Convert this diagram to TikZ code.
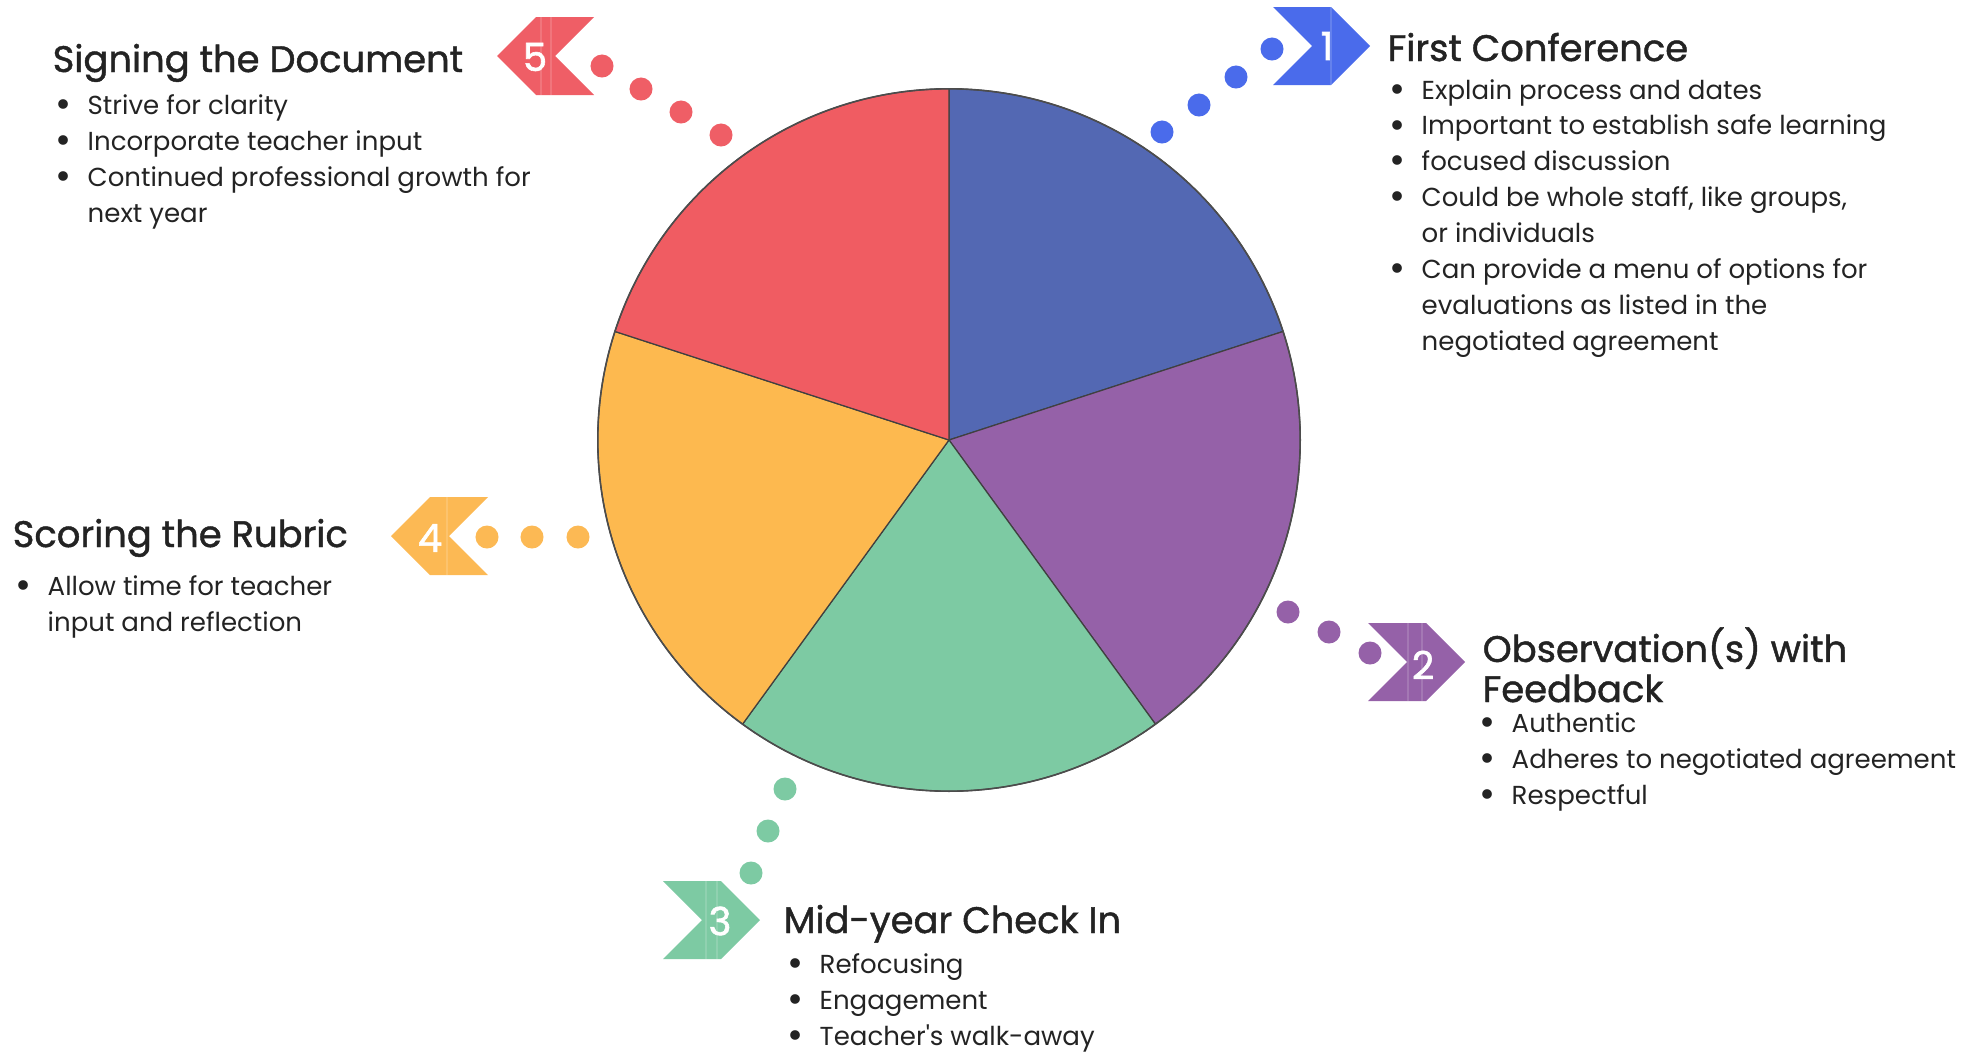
\documentclass[tikz,border=0pt]{standalone}
\usepackage{fontspec}
\setmainfont{Poppins}
\usepackage{graphicx}
\usepackage{xcolor}
\definecolor{InkDark}{HTML}{232323}
\definecolor{SliceBlue}{HTML}{5368B3}
\definecolor{SlicePurple}{HTML}{9561A8}
\definecolor{SliceGreen}{HTML}{7DCAA3}
\definecolor{SliceOrange}{HTML}{FDB94F}
\definecolor{SliceRed}{HTML}{F05C62}
\definecolor{StepBlue}{HTML}{4A6BEB}
\definecolor{StepPurple}{HTML}{9561A8}
\definecolor{StepGreen}{HTML}{7DCAA3}
\definecolor{StepOrange}{HTML}{FCB954}
\definecolor{StepRed}{HTML}{EF5E66}
\usepackage{tikz}
\usetikzlibrary{positioning,calc}

% bullet lines with a hanging indent
\newlength\bulw
\setlength\bulw{0.32cm}
\newcommand\itm{\makebox[\bulw][l]{\raisebox{-0.12em}{\scalebox{1.5}{\textbullet}}}}
\newcommand\hang{\hspace*{\bulw}}

\begin{document}
\begin{tikzpicture}[x=0.01cm,y=-0.01cm,
  % multi-line nodes sit on the baseline of their last line
  title/.style={anchor=base west,inner sep=0,align=left,text=InkDark,
    font=\fontsize{10.5}{11.4}\selectfont\addfontfeature{FakeBold=1.2}},
  list/.style={anchor=base west,inner sep=0,align=left,text=InkDark,
    font=\fontsize{7.4}{10.19}\selectfont},
  num/.style={inner sep=0,text=white,
    font=\fontsize{11}{11}\selectfont\addfontfeature{FakeBold=1.6}},
  slice/.style={draw=black!75,line width=0.35pt},
  seam/.style={draw=white,opacity=0.15,line width=0.3pt}
]
  \useasboundingbox (0,0) rectangle (1972,1051);

  % pie
  \coordinate (c) at (949,440);
  \foreach \a/\col in {90/SliceBlue,18/SlicePurple,-54/SliceGreen,-126/SliceOrange,162/SliceRed}
    \filldraw[slice,fill=\col] (c) -- ++(\a:3.51cm) arc[start angle=\a,end angle=\a-72,radius=3.51cm] -- cycle;
  \draw[draw=black!70,line width=0.45pt] (c) circle[radius=3.51cm];

  % step 1
  \fill[StepBlue] (1273,7) -- ++(58,0) -- ++(39,39) -- ++(-39,39) -- ++(-58,0) -- ++(39,-39) -- cycle;
  \draw[seam] (1331,7) -- ++(0,78);
  \node[num] (n1) at (1327,46) {1};
  \foreach \x/\y in {1162/132,1199/105,1236/77,1272/49}
    \fill[StepBlue] (\x,\y) circle[radius=0.115cm];
  \node[title] (t1) at (1387,61) {First Conference};
  \node[list] (l1) at (1389,350) {\itm Explain process and dates\\
    \itm Important to establish safe learning\\
    \itm focused discussion\\
    \itm Could be whole staff, like groups,\\
    \hang or individuals\\
    \itm Can provide a menu of options for\\
    \hang evaluations as listed in the\\
    \hang negotiated agreement};

  % step 2
  \fill[StepPurple] (1368,623) -- ++(58,0) -- ++(39,39) -- ++(-39,39) -- ++(-58,0) -- ++(39,-39) -- cycle;
  \draw[seam] (1408,623) -- ++(0,78);
  \draw[seam] (1422,623) -- ++(0,78);
  \foreach \x/\y in {1288/612,1329/632,1370/653}
    \fill[StepPurple] (\x,\y) circle[radius=0.115cm];
  \node[num] (n2) at (1423,665) {2};
  \node[title] (t2) at (1482,702) {Observation(s) with\\Feedback};
  \node[list] (l2) at (1479,804) {\itm Authentic\\
    \itm Adheres to negotiated agreement\\
    \itm Respectful};

  % step 3
  \fill[StepGreen] (663,881) -- ++(58,0) -- ++(39,39) -- ++(-39,39) -- ++(-58,0) -- ++(39,-39) -- cycle;
  \draw[seam] (706,881) -- ++(0,78);
  \draw[seam] (717,881) -- ++(0,78);
  \node[num] (n3) at (720,921) {3};
  \foreach \x/\y in {785/789,768/831,751/873}
    \fill[StepGreen] (\x,\y) circle[radius=0.115cm];
  \node[title] (t3) at (783,933) {Mid-year Check In};
  \node[list] (l3) at (787,1045) {\itm Refocusing\\
    \itm Engagement\\
    \itm Teacher\textquotesingle s walk-away};

  % step 4
  \fill[StepOrange] (488,497) -- ++(-58,0) -- ++(-39,39) -- ++(39,39) -- ++(58,0) -- ++(-39,-39) -- cycle;
  \draw[seam] (447,497) -- ++(0,78);
  \node[num] (n4) at (430,538) {4};
  \foreach \x/\y in {487/537,532/537,578/537}
    \fill[StepOrange] (\x,\y) circle[radius=0.115cm];
  \node[title] (t4) at (12,547) {Scoring the Rubric};
  \node[list] (l4) at (15,631) {\itm Allow time for teacher\\
    \hang input and reflection};

  % step 5
  \fill[StepRed] (594,17) -- ++(-58,0) -- ++(-39,39) -- ++(39,39) -- ++(58,0) -- ++(-39,-39) -- cycle;
  \draw[seam] (541,17) -- ++(0,78);
  \draw[seam] (551,17) -- ++(0,78);
  \node[num] (n5) at (535,57) {5};
  \foreach \x/\y in {602/66,641/89,681/112,721/135}
    \fill[StepRed] (\x,\y) circle[radius=0.115cm];
  \node[title] (t5) at (52,72) {Signing the Document};
  \node[list] (l5) at (55,222) {\itm Strive for clarity\\
    \itm Incorporate teacher input\\
    \itm Continued professional growth for\\
    \hang next year};
\end{tikzpicture}
\end{document}
